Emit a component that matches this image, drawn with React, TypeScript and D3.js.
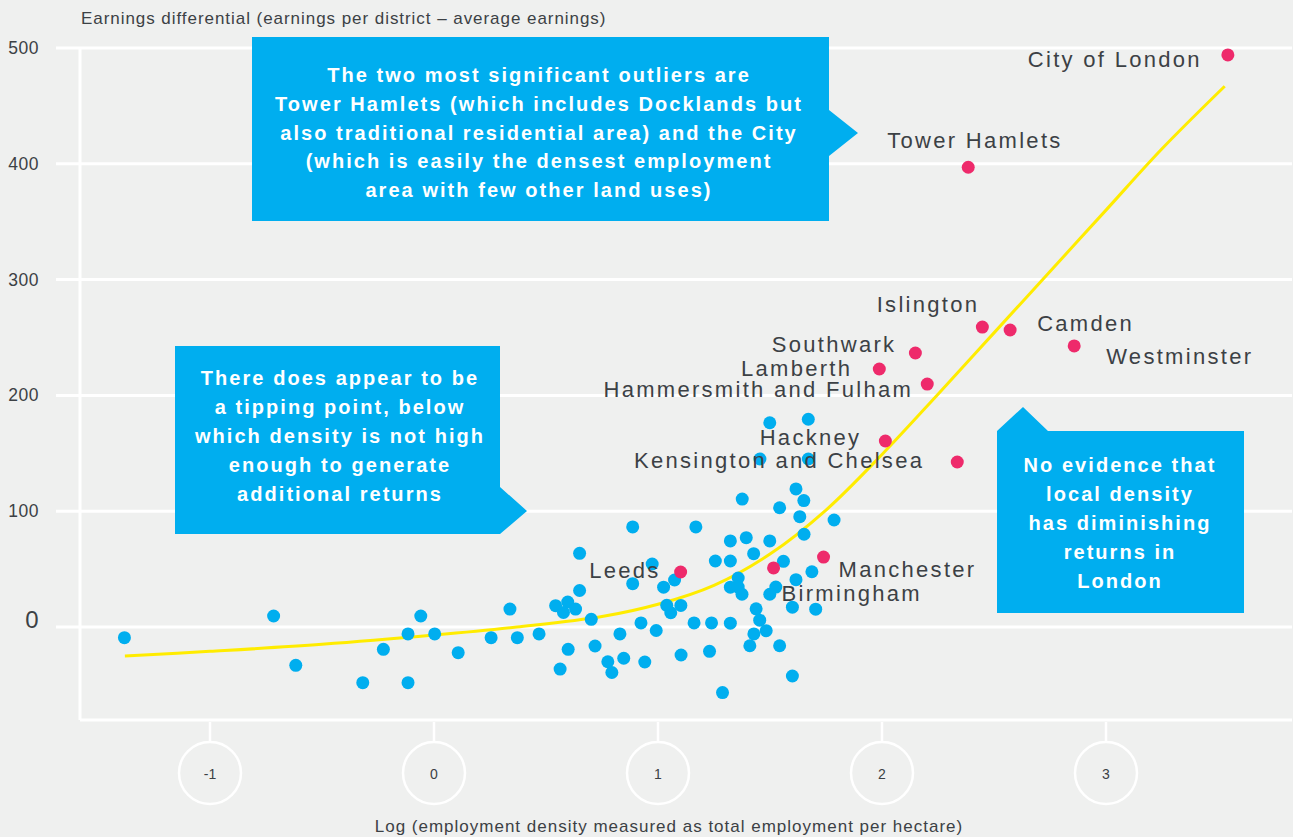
import React, { useRef, useEffect } from "react";
import * as d3 from "d3";

// axis ticks
const yTicks = [0, 100, 200, 300, 400, 500];
const xTicks = [-1, 0, 1, 2, 3];

// other districts (blue)
const otherX = [
  -1.382, -0.716, -0.617, -0.318, -0.226, -0.116, -0.059, -0.116, 0.003, 0.108,
  0.255, 0.339, 0.372, 0.469, 0.543, 0.597, 0.578, 0.632, 0.563, 0.599,
  0.65, 0.65, 0.702, 0.719, 0.776, 0.794, 0.83, 0.847, 0.887, 0.887,
  0.924, 0.941, 0.974, 0.992, 1.025, 1.074, 1.039, 1.102, 1.057, 1.103,
  1.161, 1.169, 1.23, 1.239, 1.256, 1.288, 1.323, 1.323, 1.323, 1.323,
  1.358, 1.358, 1.375, 1.376, 1.394, 1.41, 1.427, 1.428, 1.438, 1.454,
  1.483, 1.499, 1.499, 1.526, 1.543, 1.543, 1.56, 1.6, 1.6, 1.616,
  1.616, 1.633, 1.651, 1.652, 1.687, 1.704, 1.786, 1.499, 1.671, 1.455,
  1.671,
];
const otherY = [
  -9.2, 9.5, -33.1, -48.1, -19.3, -6, 9.5, -48.1, -6, -22.2,
  -9.2, 15.5, -9.2, -6, 18.4, 21.6, 12.5, 15.5, -36.3, -19.3,
  31.5, 63.6, 6.6, -16.4, -30, -39.3, -6, -27, 86.4, 37.4,
  3.5, -30.2, 54.4, -3, 34.4, 40.6, 18.7, 18.6, 12.3, -24.2,
  3.5, 86.4, -21, 3.5, 57, -56.6, 74.3, 57, 3.3, 34.4,
  42.3, 34.5, 28.3, 110.5, 77.1, -16.2, 63.3, -6, 15.7, 5.9,
  -3.2, 74.3, 28.3, 34.5, -16.2, 103, 56.7, 17.1, -42.3, 119.2,
  40.9, 95.3, 109.2, 80.1, 47.7, 15.4, 92.4, 176.4, 179.4, 145.1,
  145.1,
];

// named districts (pink)
const placeNames = [
  "City of London", "Tower Hamlets", "Islington", "Camden", "Westminster",
  "Southwark", "Lamberth", "Hammersmith and Fulham", "Hackney",
  "Kensington and Chelsea", "Leeds", "Birmingham", "Manchester",
];
const placeX = [3.544, 2.385, 2.448, 2.572, 2.858, 2.149, 1.988, 2.202, 2.015, 2.336, 1.101, 1.516, 1.739];
const placeY = [494, 397, 259, 256.5, 242.7, 236.6, 222.8, 209.8, 160.6, 142.5, 47.5, 51, 60.4];

// fitted trend (yellow)
const trendX = [-1.38, -1, -0.5, 0, 0.37, 0.75, 1, 1.25, 1.5, 1.75, 2, 2.25, 2.5, 2.75, 3, 3.25, 3.53];
const trendY = [-25, -21, -15, -7, 0, 9, 19.6, 36, 63, 101, 149, 201, 254, 307, 360, 413, 467];

const yTitle = "Earnings differential (earnings per district \u2013 average earnings)";
const xTitle = "Log (employment density measured as total employment per hectare)";

const note1 = [
  "The two most significant outliers are",
  "Tower Hamlets (which includes Docklands but",
  "also traditional residential area) and the City",
  "(which is easily the densest employment",
  "area with few other land uses)",
];
const note2 = [
  "There does appear to be",
  "a tipping point, below",
  "which density is not high",
  "enough to generate",
  "additional returns",
];
const note3 = [
  "No evidence that",
  "local density",
  "has diminishing",
  "returns in",
  "London",
];

// label placement relative to each pink dot: [dx, dy, anchor]
const labelLayout: [number, number, string][] = [
  [-26, 12, "end"], [-81, -19, "start"], [-3, -15, "end"], [27, 1, "start"],
  [32, 18, "start"], [-19, -1, "end"], [-27, 7, "end"], [-14, 13, "end"],
  [-24, 4, "end"], [-33, 6, "end"], [-20, 6, "end"], [8, 33, "start"],
  [15, 20, "start"],
];

const BG = "#eff0ef";
const BLUE = "#00aeef";
const PINK = "#ee2a6b";
const TEXT = "#3c4145";
const FONT = "'Liberation Sans', Arial, sans-serif";

function App() {
  const svgRef = useRef<SVGSVGElement>(null);

  useEffect(() => {
    const width = 1293;
    const height = 837;
    const svg = d3.select(svgRef.current);
    svg.selectAll("*").remove();
    svg.attr("width", width).attr("height", height);

    const x = d3.scaleLinear().domain([0, 1]).range([434, 658]);
    const y = d3.scaleLinear().domain([0, 500]).range([627, 48]);
    const plotBottom = 720;
    const plotLeft = 80;
    const plotRight = 1292;

    svg.append("rect").attr("width", width).attr("height", height).attr("fill", BG);

    // grid
    svg.append("g")
      .selectAll("line")
      .data(yTicks)
      .enter()
      .append("line")
      .attr("x1", 56)
      .attr("x2", plotRight)
      .attr("y1", (d) => y(d))
      .attr("y2", (d) => y(d))
      .attr("stroke", "#fff")
      .attr("stroke-width", 3);

    svg.append("line")
      .attr("x1", plotLeft).attr("x2", plotLeft)
      .attr("y1", y(500)).attr("y2", plotBottom)
      .attr("stroke", "#fff").attr("stroke-width", 3);
    svg.append("line")
      .attr("x1", plotLeft).attr("x2", plotRight)
      .attr("y1", plotBottom).attr("y2", plotBottom)
      .attr("stroke", "#fff").attr("stroke-width", 3);

    // y tick labels
    svg.append("g")
      .selectAll("text")
      .data(yTicks)
      .enter()
      .append("text")
      .attr("x", 39)
      .attr("y", (d) => (d === 0 ? y(d) + 1 : y(d) + 6))
      .attr("text-anchor", "end")
      .attr("font-family", FONT)
      .attr("font-size", (d) => (d === 0 ? 24 : 17.5))
      .attr("letter-spacing", 0.5)
      .attr("fill", TEXT)
      .text((d) => d);

    // x ticks in circles
    const xt = svg.append("g").selectAll("g").data(xTicks).enter().append("g")
      .attr("transform", (d) => `translate(${x(d)},0)`);
    xt.append("line")
      .attr("y1", plotBottom + 2).attr("y2", 742)
      .attr("stroke", "#fff").attr("stroke-width", 2.5);
    xt.append("circle")
      .attr("cy", 773).attr("r", 31)
      .attr("fill", "none").attr("stroke", "#fff").attr("stroke-width", 2.5);
    xt.append("text")
      .attr("y", 778.5)
      .attr("text-anchor", "middle")
      .attr("font-family", FONT)
      .attr("font-size", 14)
      .attr("fill", TEXT)
      .text((d) => d);

    // axis titles
    svg.append("text")
      .attr("x", 81).attr("y", 24)
      .attr("font-family", FONT).attr("font-size", 17)
      .attr("letter-spacing", 0.95)
      .attr("fill", TEXT)
      .text(yTitle);
    svg.append("text")
      .attr("x", 669).attr("y", 832)
      .attr("text-anchor", "middle")
      .attr("font-family", FONT).attr("font-size", 17)
      .attr("letter-spacing", 1)
      .attr("fill", TEXT)
      .text(xTitle);

    // trend line
    const line = d3.line<number>()
      .x((d, i) => x(trendX[i]))
      .y((d) => y(d))
      .curve(d3.curveCatmullRom.alpha(0.5));
    svg.append("path")
      .attr("d", line(trendY))
      .attr("fill", "none")
      .attr("stroke", "#ffec00")
      .attr("stroke-width", 3);

    // blue dots
    svg.append("g")
      .selectAll("circle")
      .data(otherY)
      .enter()
      .append("circle")
      .attr("cx", (d, i) => x(otherX[i]))
      .attr("cy", (d) => y(d))
      .attr("r", 6.5)
      .attr("fill", BLUE);

    // pink dots
    svg.append("g")
      .selectAll("circle")
      .data(placeY)
      .enter()
      .append("circle")
      .attr("cx", (d, i) => x(placeX[i]))
      .attr("cy", (d) => y(d))
      .attr("r", 6.5)
      .attr("fill", PINK);

    // labels
    svg.append("g")
      .selectAll("text")
      .data(placeNames)
      .enter()
      .append("text")
      .attr("x", (d, i) => x(placeX[i]) + labelLayout[i][0])
      .attr("y", (d, i) => y(placeY[i]) + labelLayout[i][1])
      .attr("text-anchor", (d, i) => labelLayout[i][2])
      .attr("font-family", FONT)
      .attr("font-size", 22)
      .attr("letter-spacing", 2.3)
      .attr("fill", TEXT)
      .text((d) => d);

    // callouts
    const callout = (pathD: string, lines: string[], cx: number, firstBase: number, step: number) => {
      const g = svg.append("g");
      g.append("path").attr("d", pathD).attr("fill", BLUE);
      g.selectAll("text")
        .data(lines)
        .enter()
        .append("text")
        .attr("x", cx)
        .attr("y", (d, i) => firstBase + i * step)
        .attr("text-anchor", "middle")
        .attr("font-family", FONT)
        .attr("font-weight", "bold")
        .attr("font-size", 20)
        .attr("letter-spacing", 2.05)
        .attr("fill", "#fff")
        .text((d) => d);
    };
    callout("M252,37H829V110L858,133L829,156V221H252Z", note1, 539, 82, 28.8);
    callout("M175,346H500V487L527,511L500,534H175Z", note2, 340, 385, 29);
    callout("M997,431L1023,407L1048,431H1244V613H997Z", note3, 1120, 472, 29);
  }, []);

  return (
    <svg ref={svgRef} style={{ position: "absolute", left: 0, top: 0 }}></svg>
  );
}

export default App;
